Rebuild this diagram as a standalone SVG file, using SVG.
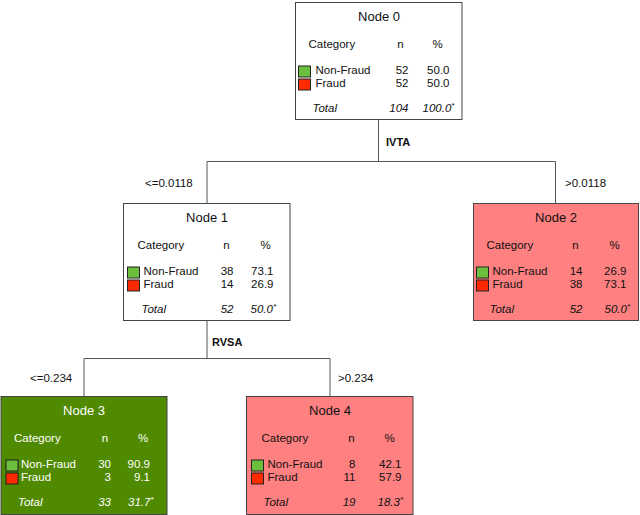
<svg xmlns="http://www.w3.org/2000/svg" width="640" height="515" viewBox="0 0 640 515">
<style>
text{font-family:"Liberation Sans",Arial,sans-serif;font-size:11.5px;fill:#111}
.t{font-size:13px;text-anchor:middle}
.m{text-anchor:middle}
.e{text-anchor:end}
.i{font-style:italic}
.b{font-weight:bold;font-size:11px}
.box{stroke:#444;stroke-width:1}
.w{fill:#fff}
.p{fill:#ff8080}
.g{fill:#4f8a00}
.sg{fill:#6cbf3c;stroke:#222;stroke-width:1}
.sr{fill:#ff2a00;stroke:#222;stroke-width:1}
.inv text{fill:#fff}
.c{fill:none;stroke:#555;stroke-width:1}
.sup{font-size:8px}
</style>
<g id="connectors">
<path class="c" d="M378.5 119.5V161.5M207 161.5H555.5M207 161.5V203M555.5 161.5V203"/>
<path class="c" d="M207 321V358.5M84 358.5H330M84 358.5V396M330 358.5V396"/>
<text class="b" x="386" y="146">IVTA</text>
<text x="145" y="187">&lt;=0.0118</text>
<text x="565" y="187">&gt;0.0118</text>
<text class="b" x="212" y="346">RVSA</text>
<text x="30" y="382">&lt;=0.234</text>
<text x="338" y="382">&gt;0.234</text>
</g>
<g id="node0" transform="translate(295.5,2.5)">
<rect class="box w" width="166.5" height="117"/>
<text class="t" x="83.5" y="18">Node 0</text>
<text x="13" y="45">Category</text><text class="m" x="105" y="45">n</text><text class="m" x="142" y="45">%</text>
<rect class="sg" x="3" y="63.5" width="12" height="11"/><rect class="sr" x="3" y="76.5" width="12" height="11"/>
<text x="20" y="71">Non-Fraud</text><text class="e" x="113" y="71">52</text><text class="e" x="154" y="71">50.0</text>
<text x="20" y="84">Fraud</text><text class="e" x="113" y="84">52</text><text class="e" x="154" y="84">50.0</text>
<text class="i" x="17" y="109">Total</text><text class="e i" x="113" y="109">104</text><text class="i" x="127" y="109">100.0<tspan class="sup" dy="-4">*</tspan></text>
</g>
<g id="node1" transform="translate(123.5,203.5)">
<rect class="box w" width="166.5" height="117"/>
<text class="t" x="83.5" y="18">Node 1</text>
<text x="14" y="45">Category</text><text class="m" x="103" y="45">n</text><text class="m" x="142" y="45">%</text>
<rect class="sg" x="4" y="63.5" width="12" height="11"/><rect class="sr" x="4" y="76.5" width="12" height="11"/>
<text x="20" y="71">Non-Fraud</text><text class="e" x="110" y="71">38</text><text class="e" x="150" y="71">73.1</text>
<text x="20" y="84">Fraud</text><text class="e" x="110" y="84">14</text><text class="e" x="150" y="84">26.9</text>
<text class="i" x="18" y="109">Total</text><text class="e i" x="110" y="109">52</text><text class="i" x="127" y="109">50.0<tspan class="sup" dy="-4">*</tspan></text>
</g>
<g id="node2" transform="translate(473.5,203.5)">
<rect class="box p" width="165" height="117"/>
<text class="t" x="82.5" y="18">Node 2</text>
<text x="13" y="45">Category</text><text class="m" x="102" y="45">n</text><text class="m" x="141" y="45">%</text>
<rect class="sg" x="3" y="63.5" width="12" height="11"/><rect class="sr" x="3" y="76.5" width="12" height="11"/>
<text x="19" y="71">Non-Fraud</text><text class="e" x="109" y="71">14</text><text class="e" x="153" y="71">26.9</text>
<text x="19" y="84">Fraud</text><text class="e" x="109" y="84">38</text><text class="e" x="153" y="84">73.1</text>
<text class="i" x="16" y="109">Total</text><text class="e i" x="109" y="109">52</text><text class="i" x="131" y="109">50.0<tspan class="sup" dy="-4">*</tspan></text>
</g>
<g id="node3" class="inv" transform="translate(1,396.5)">
<rect class="box g" width="166" height="118"/>
<text class="t" x="83" y="18">Node 3</text>
<text x="13" y="45">Category</text><text class="m" x="104" y="45">n</text><text class="m" x="142" y="45">%</text>
<rect class="sg" x="5" y="63.5" width="12" height="11"/><rect class="sr" x="5" y="76.5" width="12" height="11"/>
<text x="20" y="71">Non-Fraud</text><text class="e" x="110" y="71">30</text><text class="e" x="149" y="71">90.9</text>
<text x="20" y="84">Fraud</text><text class="e" x="110" y="84">3</text><text class="e" x="149" y="84">9.1</text>
<text class="i" x="17" y="109">Total</text><text class="e i" x="110" y="109">33</text><text class="i" x="127" y="109">31.7<tspan class="sup" dy="-4">*</tspan></text>
</g>
<g id="node4" transform="translate(246.5,396.5)">
<rect class="box p" width="166.5" height="118"/>
<text class="t" x="83.5" y="18">Node 4</text>
<text x="15" y="45">Category</text><text class="m" x="105" y="45">n</text><text class="m" x="143" y="45">%</text>
<rect class="sg" x="5" y="63.5" width="12" height="11"/><rect class="sr" x="5" y="76.5" width="12" height="11"/>
<text x="21" y="71">Non-Fraud</text><text class="e" x="109" y="71">8</text><text class="e" x="155" y="71">42.1</text>
<text x="21" y="84">Fraud</text><text class="e" x="109" y="84">11</text><text class="e" x="155" y="84">57.9</text>
<text class="i" x="17" y="109">Total</text><text class="e i" x="109" y="109">19</text><text class="i" x="131" y="109">18.3<tspan class="sup" dy="-4">*</tspan></text>
</g>
</svg>
